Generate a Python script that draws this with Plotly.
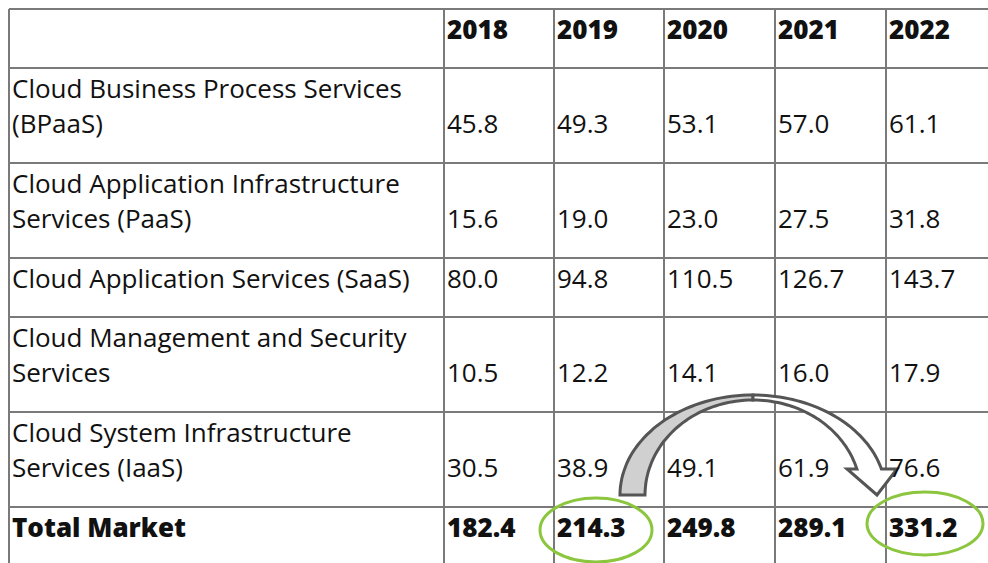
import numpy as np
import plotly.graph_objects as go

# table content
years = ['2018', '2019', '2020', '2021', '2022']
segments = [
    'Cloud Business Process Services<br>(BPaaS)',
    'Cloud Application Infrastructure<br>Services (PaaS)',
    'Cloud Application Services (SaaS)',
    'Cloud Management and Security<br>Services',
    'Cloud System Infrastructure<br>Services (IaaS)',
]
bpaas = [45.8, 49.3, 53.1, 57.0, 61.1]
paas = [15.6, 19.0, 23.0, 27.5, 31.8]
saas = [80.0, 94.8, 110.5, 126.7, 143.7]
mgmt = [10.5, 12.2, 14.1, 16.0, 17.9]
iaas = [30.5, 38.9, 49.1, 61.9, 76.6]
total_label = 'Total Market'
total = [182.4, 214.3, 249.8, 289.1, 331.2]

W, H = 988, 563
col_edges = [9, 444, 554, 664, 775, 886]
row_edges = [9, 68, 163, 258, 317, 412, 507]
GRID = '#7a7a7a'
FONT = 'Open Sans'
FS = 26

fig = go.Figure()
shapes = []
ann = []

# grid
for y in row_edges:
    shapes.append(dict(type='line', x0=col_edges[0], x1=W, y0=y, y1=y,
                       line=dict(color=GRID, width=2), layer='below'))
for x in col_edges:
    shapes.append(dict(type='line', x0=x, x1=x, y0=row_edges[0], y1=H,
                       line=dict(color=GRID, width=2), layer='below'))


def put(x, y, text, bold=False):
    ann.append(dict(x=x, y=y, text=text, showarrow=False, xanchor='left', yanchor='middle',
                    xref='x', yref='y',
                    font=dict(family=FONT, size=FS, color='#111111',
                              weight=800 if bold else 400)))


# header
for i, yr in enumerate(years):
    put(col_edges[i + 1] + 1, row_edges[0] + 20, yr, bold=True)

rows = [bpaas, paas, saas, mgmt, iaas]
for r, (label, vals) in enumerate(zip(segments, rows)):
    top = row_edges[r + 1]
    lines = label.split('<br>')
    for k, ln in enumerate(lines):
        put(col_edges[0] + 1, top + 20 + 35 * k, ln)
    vy = top + 20 + 35 * (len(lines) - 1)
    for i, v in enumerate(vals):
        put(col_edges[i + 1] + 1, vy, f'{v:.1f}')

top = row_edges[-1]
put(col_edges[0] + 1, top + 20, total_label, bold=True)
for i, v in enumerate(total):
    put(col_edges[i + 1] + 1, top + 20, f'{v:.1f}', bold=True)

# green ellipses around 2019 and 2022 totals
GREEN = '#8cc63f'
shapes.append(dict(type='circle', x0=540, x1=652, y0=498, y1=562,
                   line=dict(color=GREEN, width=3), layer='above'))
shapes.append(dict(type='circle', x0=867, x1=983, y0=492, y1=555,
                   line=dict(color=GREEN, width=3), layer='above'))

# curved arrow
cx, cy = 753, 495
ro = (133, 100)
ri = (108, 95)


def arc(r, t0, t1, n=40):
    t = np.linspace(t0, t1, n)
    return [(cx + r[0] * np.cos(a), cy - r[1] * np.sin(a)) for a in t]


def to_path(pts, close=True):
    s = 'M ' + ' L '.join(f'{x:.1f},{y:.1f}' for x, y in pts)
    return s + (' Z' if close else '')


back = arc(ro, np.pi, np.pi / 2) + arc(ri, np.pi / 2, np.pi)
t_o = np.arcsin(26 / ro[1])
t_i = np.arcsin(26 / ri[1])
front = arc(ro, np.pi / 2, t_o) + [(897, 469), (877, 495), (847, 469)] + arc(ri, t_i, np.pi / 2)
shapes.append(dict(type='path', path=to_path(back), fillcolor='#d0d0d0',
                   line=dict(color='#555555', width=3), layer='above'))
shapes.append(dict(type='path', path=to_path(front), fillcolor='white',
                   line=dict(color='#555555', width=3), layer='above'))

fig.update_layout(
    width=W, height=H, margin=dict(l=0, r=0, t=0, b=0),
    paper_bgcolor='white', plot_bgcolor='white',
    xaxis=dict(range=[0, W], visible=False, fixedrange=True),
    yaxis=dict(range=[H, 0], visible=False, fixedrange=True),
    shapes=shapes, annotations=ann, showlegend=False,
)
fig.write_html('out.html', config={'displayModeBar': False},
               post_script="document.body.style.margin='0';document.body.style.overflow='hidden';")
